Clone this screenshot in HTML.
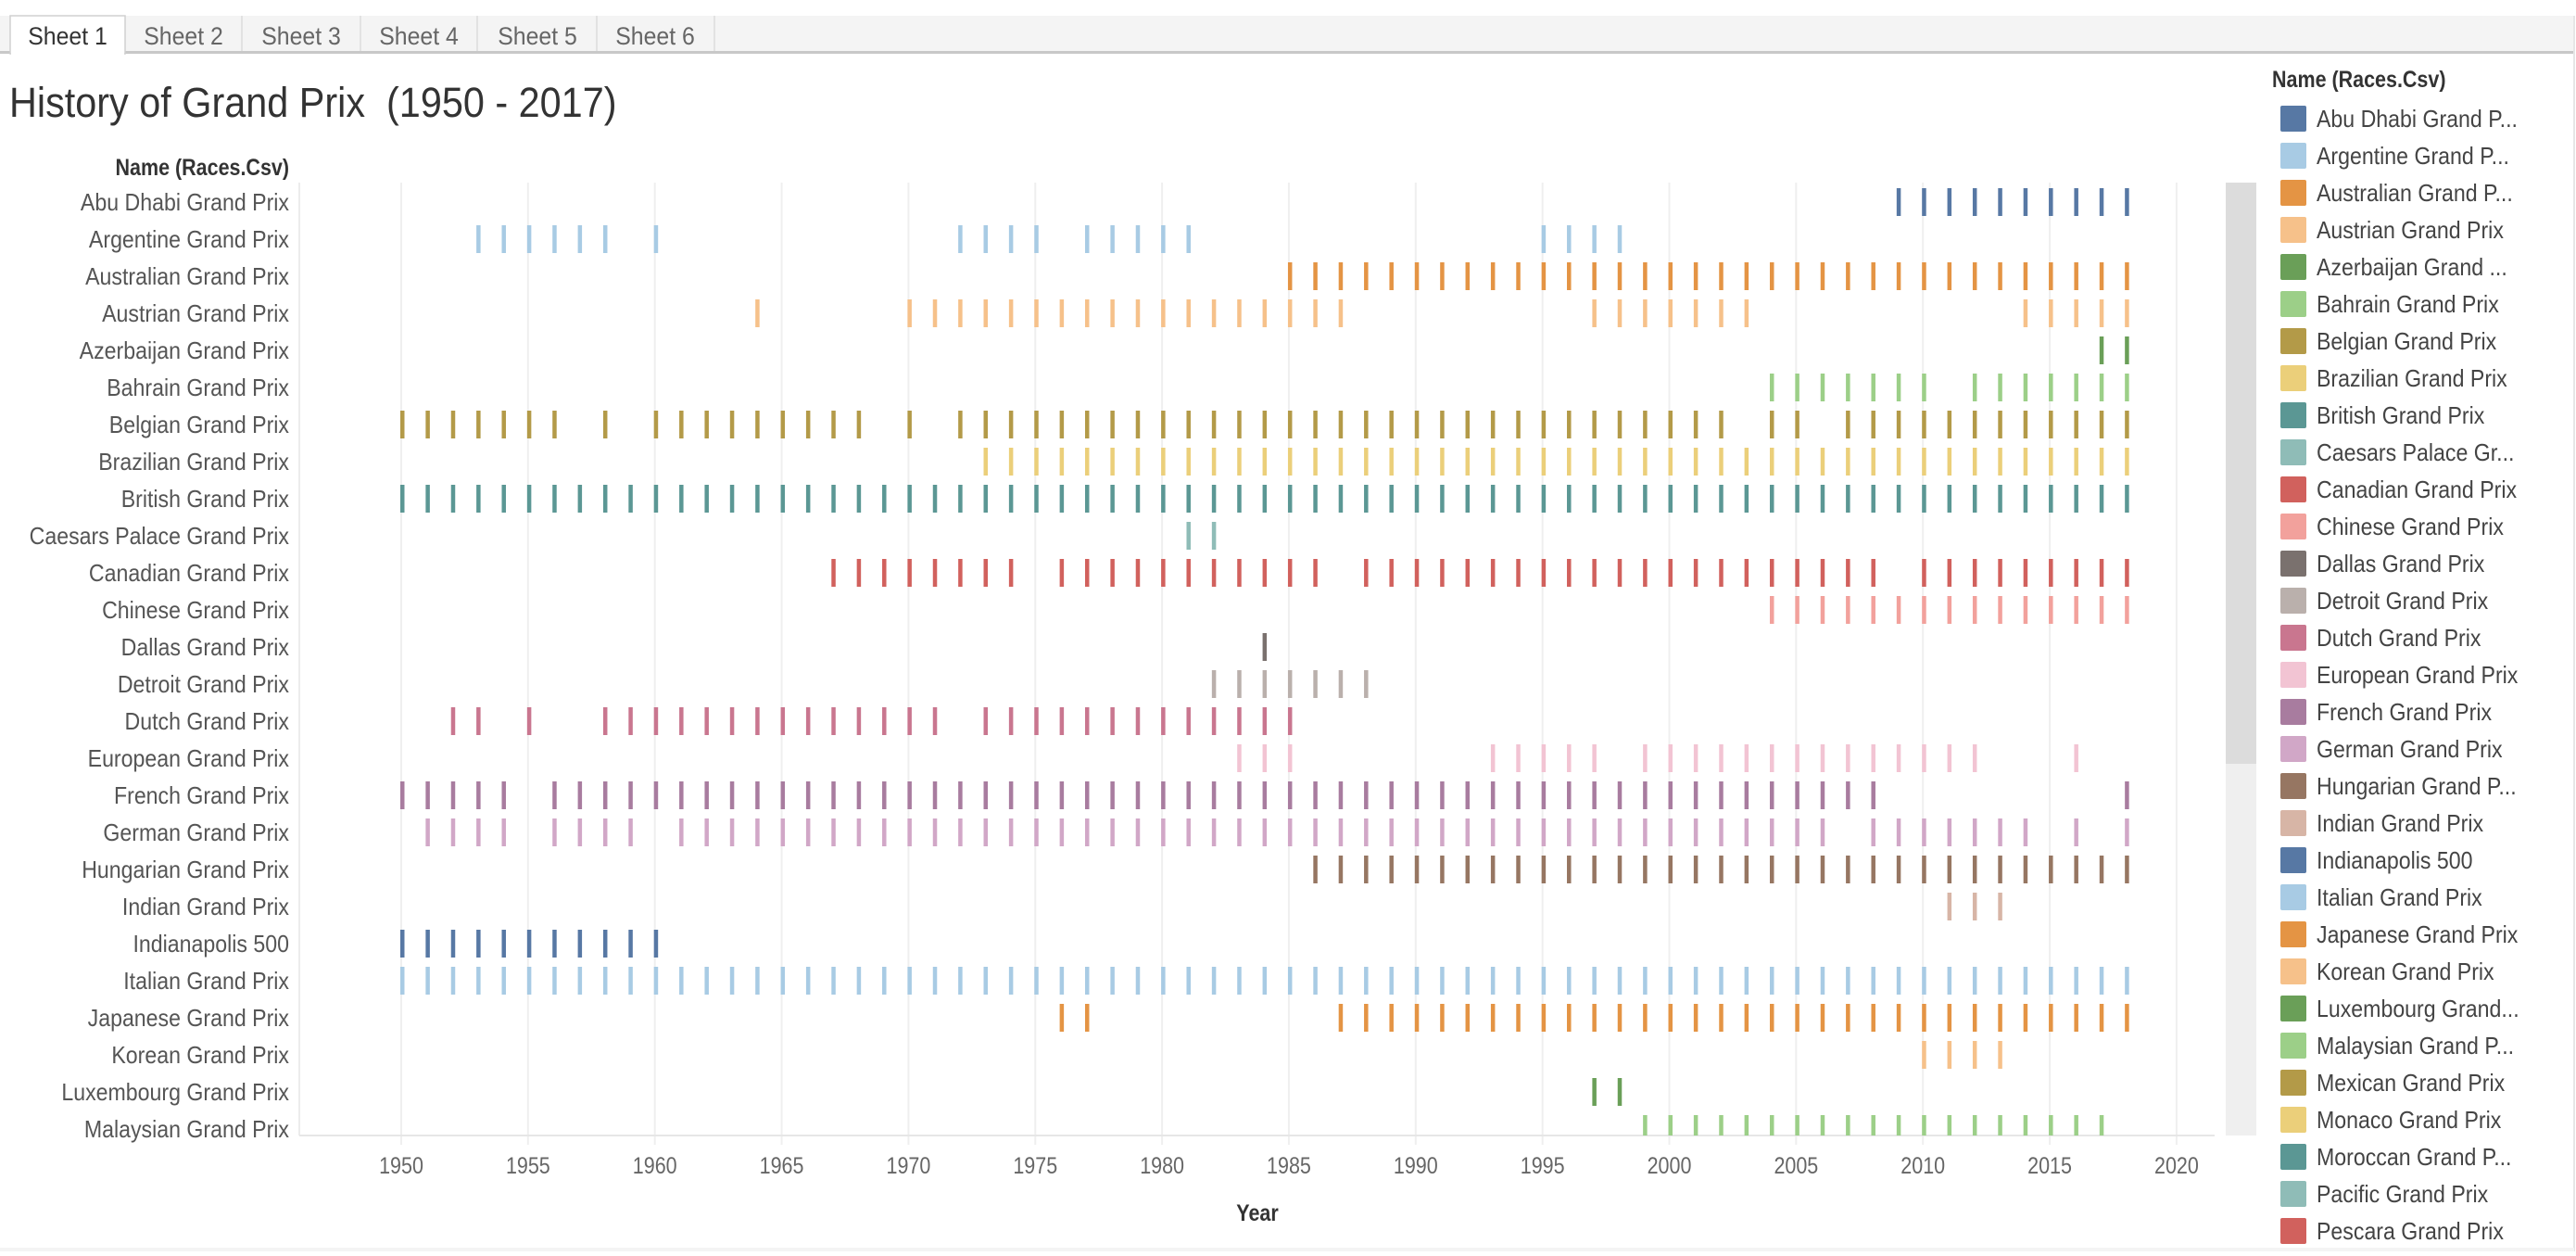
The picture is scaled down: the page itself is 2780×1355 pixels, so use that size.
<!DOCTYPE html>
<html><head><meta charset="utf-8"><title>History of Grand Prix</title>
<style>
html,body{margin:0;padding:0;background:#fff;}
body{width:2780px;height:1350px;overflow:hidden;position:relative;font-family:"Liberation Sans",sans-serif;}
svg text{font-family:"Liberation Sans",sans-serif;}
</style></head>
<body>
<svg id="chart" width="2780" height="1350" xmlns="http://www.w3.org/2000/svg">
  <g>
    <rect x="0" y="17" width="2778" height="40" fill="#f4f4f4"/>
    <rect x="0" y="55" width="2778" height="3" fill="#c8c8c8"/>
    <line x1="2778" y1="17" x2="2778" y2="1350" stroke="#e6e6e6" stroke-width="2"/>
    <rect x="11" y="17" width="124" height="41" fill="#fff" stroke="#d0d0d0" stroke-width="1.5"/>
    <rect x="12" y="54" width="122" height="6" fill="#fff"/>
    <text transform="translate(73,48) scale(0.92,1)" font-size="27" fill="#333" text-anchor="middle">Sheet 1</text>
    <g><line x1="261" y1="17" x2="261" y2="55" stroke="#d0d0d0"/><text transform="translate(198,48) scale(0.92,1)" font-size="27" fill="#666" text-anchor="middle">Sheet 2</text></g>
    <g><line x1="389" y1="17" x2="389" y2="55" stroke="#d0d0d0"/><text transform="translate(325,48) scale(0.92,1)" font-size="27" fill="#666" text-anchor="middle">Sheet 3</text></g>
    <g><line x1="515" y1="17" x2="515" y2="55" stroke="#d0d0d0"/><text transform="translate(452,48) scale(0.92,1)" font-size="27" fill="#666" text-anchor="middle">Sheet 4</text></g>
    <g><line x1="644" y1="17" x2="644" y2="55" stroke="#d0d0d0"/><text transform="translate(580,48) scale(0.92,1)" font-size="27" fill="#666" text-anchor="middle">Sheet 5</text></g>
    <g><line x1="771" y1="17" x2="771" y2="55" stroke="#d0d0d0"/><text transform="translate(707,48) scale(0.92,1)" font-size="27" fill="#666" text-anchor="middle">Sheet 6</text></g>
  </g>
  <text transform="translate(10,126) scale(0.92,1)" font-size="45" fill="#333" xml:space="preserve">History of Grand Prix  (1950 - 2017)</text>
  <text transform="translate(312,189) scale(0.86,1)" font-size="25" fill="#333" font-weight="bold" text-anchor="end">Name (Races.Csv)</text>
  <text transform="translate(2452,94) scale(0.86,1)" font-size="25" fill="#333" font-weight="bold">Name (Races.Csv)</text>
  <g id="grid"></g>
  <g id="rows"></g>
  <g id="marks"></g>
  <g id="xaxis"></g>
  <text transform="translate(1357,1317) scale(0.86,1)" font-size="25" fill="#333" font-weight="bold" text-anchor="middle">Year</text>
  <g>
    <rect x="2402" y="197" width="33" height="1028" fill="#efefef"/>
    <rect x="2402" y="197" width="33" height="627" fill="#dcdcdc"/>
  </g>
  <g id="legend"></g>
  <rect x="0" y="1346" width="2778" height="4" fill="#f4f4f4"/>
</svg>
<script>
const races = ["Abu Dhabi Grand Prix","Argentine Grand Prix","Australian Grand Prix","Austrian Grand Prix","Azerbaijan Grand Prix","Bahrain Grand Prix","Belgian Grand Prix","Brazilian Grand Prix","British Grand Prix","Caesars Palace Grand Prix","Canadian Grand Prix","Chinese Grand Prix","Dallas Grand Prix","Detroit Grand Prix","Dutch Grand Prix","European Grand Prix","French Grand Prix","German Grand Prix","Hungarian Grand Prix","Indian Grand Prix","Indianapolis 500","Italian Grand Prix","Japanese Grand Prix","Korean Grand Prix","Luxembourg Grand Prix","Malaysian Grand Prix"];
const legendLabels = ["Abu Dhabi Grand P...","Argentine Grand P...","Australian Grand P...","Austrian Grand Prix","Azerbaijan Grand ...","Bahrain Grand Prix","Belgian Grand Prix","Brazilian Grand Prix","British Grand Prix","Caesars Palace Gr...","Canadian Grand Prix","Chinese Grand Prix","Dallas Grand Prix","Detroit Grand Prix","Dutch Grand Prix","European Grand Prix","French Grand Prix","German Grand Prix","Hungarian Grand P...","Indian Grand Prix","Indianapolis 500","Italian Grand Prix","Japanese Grand Prix","Korean Grand Prix","Luxembourg Grand...","Malaysian Grand P...","Mexican Grand Prix","Monaco Grand Prix","Moroccan Grand P...","Pacific Grand Prix","Pescara Grand Prix"];
const palette = ["#5778a4","#a8cbe4","#e49444","#f6c18a","#6a9f58","#9ccf88","#b39a48","#ebcf7a","#5b9794","#8fbcb7","#d1615d","#f2a19c","#7a716e","#bab0ac","#c9768f","#f2c4d3","#a87c9f","#d1a7c7","#967662","#d7b5a6"];
const xTicks = [1950,1955,1960,1965,1970,1975,1980,1985,1990,1995,2000,2005,2010,2015,2020];
function span(a,b){const r=[];for(let y=a;y<=b;y++)r.push(y);return r;}
const yearsAbuDhabi = span(2009,2018);
const yearsArgentine = [1953,1954,1955,1956,1957,1958,1960,1972,1973,1974,1975,1977,1978,1979,1980,1981,1995,1996,1997,1998];
const yearsAustralian = span(1985,2018);
const yearsAustrian = [1964].concat(span(1970,1987),span(1997,2003),span(2014,2018));
const yearsAzerbaijan = [2017,2018];
const yearsBahrain = span(2004,2010).concat(span(2012,2018));
const yearsBelgian = [1950,1951,1952,1953,1954,1955,1956,1958,1960,1961,1962,1963,1964,1965,1966,1967,1968,1970].concat(span(1972,2002),[2004,2005],span(2007,2018));
const yearsBrazilian = span(1973,2018);
const yearsBritish = span(1950,2018);
const yearsCaesars = [1981,1982];
const yearsCanadian = span(1967,1974).concat(span(1976,1986),span(1988,2008),span(2010,2018));
const yearsChinese = span(2004,2018);
const yearsDallas = [1984];
const yearsDetroit = span(1982,1988);
const yearsDutch = [1952,1953,1955].concat(span(1958,1971),span(1973,1985));
const yearsEuropean = [1983,1984,1985].concat(span(1993,1997),span(1999,2012),[2016]);
const yearsFrench = span(1950,1954).concat(span(1956,2008),[2018]);
const yearsGerman = span(1951,1954).concat(span(1956,1959),span(1961,2006),span(2008,2014),[2016,2018]);
const yearsHungarian = span(1986,2018);
const yearsIndian = [2011,2012,2013];
const yearsIndianapolis = span(1950,1960);
const yearsItalian = span(1950,2018);
const yearsJapanese = [1976,1977].concat(span(1987,2018));
const yearsKorean = span(2010,2013);
const yearsLuxembourg = [1997,1998];
const yearsMalaysian = span(1999,2017);
const seriesYears = [yearsAbuDhabi,yearsArgentine,yearsAustralian,yearsAustrian,yearsAzerbaijan,yearsBahrain,yearsBelgian,yearsBrazilian,yearsBritish,yearsCaesars,yearsCanadian,yearsChinese,yearsDallas,yearsDetroit,yearsDutch,yearsEuropean,yearsFrench,yearsGerman,yearsHungarian,yearsIndian,yearsIndianapolis,yearsItalian,yearsJapanese,yearsKorean,yearsLuxembourg,yearsMalaysian];

const NS="http://www.w3.org/2000/svg";
const PLOT_L=323, PLOT_R=2390, PLOT_T=197, PLOT_B=1225;
function xScale(y){return 433+(y-1950)*27.37;}
function yScale(i){return 218+i*40;}
function mk(tag,attrs,parent){const e=document.createElementNS(NS,tag);for(const k in attrs)e.setAttribute(k,attrs[k]);parent.appendChild(e);return e;}

const grid=document.getElementById('grid');
mk('line',{x1:PLOT_L,y1:PLOT_T,x2:PLOT_L,y2:PLOT_B,stroke:'#ececec','stroke-width':2},grid);
xTicks.forEach(t=>{
  const l=mk('line',{x1:xScale(t),y1:PLOT_T,x2:xScale(t),y2:PLOT_B+10,stroke:'#efefef','stroke-width':2},grid);
  
  
});
mk('line',{x1:PLOT_L,y1:PLOT_B,x2:PLOT_R,y2:PLOT_B,stroke:'#e6e6e6','stroke-width':2},grid);

const xa=document.getElementById('xaxis');
xTicks.forEach(t=>{
  const tx=mk('text',{transform:'translate('+xScale(t)+',1266) scale(0.86,1)','font-size':25,fill:'#666','text-anchor':'middle'},xa);
  tx.textContent=t;
  
  
});

const rows=document.getElementById('rows');
const marks=document.getElementById('marks');
races.forEach((name,i)=>{
  const cy=yScale(i);
  if(cy>PLOT_B+10) return;
  const tx=mk('text',{transform:'translate(312,'+(cy+9)+') scale(0.89,1)','font-size':26,fill:'#555','text-anchor':'end'},rows);
  tx.textContent=name;
  
  
  const g=mk('g',{},marks);
  
  
  const col=palette[i%palette.length];
  seriesYears[i].forEach(yr=>{
    const top=Math.max(cy-15,PLOT_T), bot=Math.min(cy+15,PLOT_B);
    if(bot<=top) return;
    const r=mk('rect',{x:xScale(yr)-1,y:top,width:4.5,height:bot-top,fill:col},g);
    
    
  });
});

const lg=document.getElementById('legend');
legendLabels.forEach((lab,i)=>{
  const cy=128+i*40;
  const g=mk('g',{},lg);
  
  
  mk('rect',{x:2461,y:cy-14,width:28,height:28,rx:2,fill:palette[i%palette.length]},g);
  const t=mk('text',{transform:'translate(2500,'+(cy+9)+') scale(0.89,1)','font-size':26,fill:'#444'},g);
  t.textContent=lab;
});
</script>
</body></html>
